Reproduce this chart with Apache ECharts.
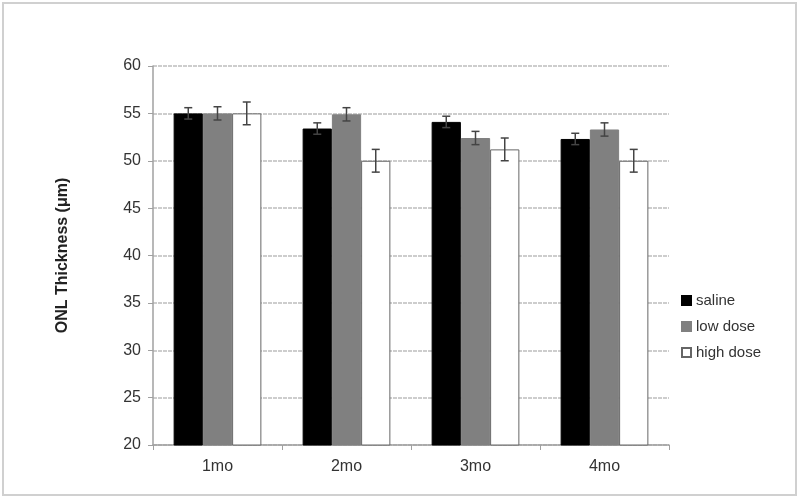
<!DOCTYPE html>
<html>
<head>
<meta charset="utf-8">
<script src="https://cdn.jsdelivr.net/npm/echarts@6/dist/echarts.min.js"></script>
<style>
  html, body { margin: 0; padding: 0; background: #fff; }
  #chart { width: 800px; height: 500px; }
</style>
</head>
<body>
<div id="chart"></div>
<script>
var categories = ['1mo', '2mo', '3mo', '4mo'];
var seriesNames = ['saline', 'low dose', 'high dose'];
var saline = [55.0, 53.4, 54.1, 52.3];
var lowDose = [55.0, 54.9, 52.4, 53.3];
var highDose = [55.0, 50.0, 51.2, 50.0];
var salineErr = [0.6, 0.6, 0.6, 0.6];
var lowDoseErr = [0.7, 0.7, 0.7, 0.7];
var highDoseErr = [1.2, 1.2, 1.2, 1.2];

var values = [saline, lowDose, highDose];
var errors = [salineErr, lowDoseErr, highDoseErr];
var barColors = ['#000000', '#808080', '#ffffff'];
var catGap = 0.32;

// one row per error bar: [category index, series index, low, high]
var errData = [];
for (var s = 0; s < values.length; s++) {
    for (var c = 0; c < categories.length; c++) {
        errData.push([c, s, values[s][c] - errors[s][c], values[s][c] + errors[s][c]]);
    }
}

function renderError(params, api) {
    var c = api.value(0);
    var s = api.value(1);
    var catWidth = api.size([1, 0])[0];
    var barW = catWidth * (1 - catGap) / 3;
    var lowPt = api.coord([c, api.value(2)]);
    var highPt = api.coord([c, api.value(3)]);
    var x = lowPt[0] + (s - 1) * barW;
    var cap = 4;
    var style = { stroke: '#444', lineWidth: 1.5 };
    return {
        type: 'group',
        children: [
            { type: 'line', shape: { x1: x, y1: lowPt[1], x2: x, y2: highPt[1] }, style: style },
            { type: 'line', shape: { x1: x - cap, y1: lowPt[1], x2: x + cap, y2: lowPt[1] }, style: style },
            { type: 'line', shape: { x1: x - cap, y1: highPt[1], x2: x + cap, y2: highPt[1] }, style: style }
        ]
    };
}

var series = [];
for (var i = 0; i < seriesNames.length; i++) {
    series.push({
        name: seriesNames[i],
        type: 'bar',
        data: values[i],
        barGap: '0%',
        barCategoryGap: (catGap * 100) + '%',
        itemStyle: {
            color: barColors[i],
            borderColor: i === 2 ? '#666' : barColors[i],
            borderWidth: 1
        }
    });
}
series.push({
    type: 'custom',
    name: 'error',
    renderItem: renderError,
    data: errData,
    encode: { x: 0, y: [2, 3] },
    z: 10,
    silent: true
});

var chart = echarts.init(document.getElementById('chart'));
chart.setOption({
    animation: false,
    textStyle: { fontFamily: 'Liberation Sans, Arial, sans-serif' },
    graphic: [{
        type: 'rect',
        shape: { x: 3, y: 3, width: 793, height: 492 },
        style: { fill: 'none', stroke: '#d0d0d0', lineWidth: 2 },
        silent: true
    }],
    grid: { left: 153, right: 131, top: 66, bottom: 55 },
    legend: {
        data: seriesNames,
        orient: 'vertical',
        left: 676,
        top: 288,
        itemWidth: 9,
        itemHeight: 9,
        itemGap: 11,
        icon: 'rect',
        textStyle: { fontSize: 15, color: '#333' }
    },
    xAxis: {
        type: 'category',
        data: categories,
        axisLine: { lineStyle: { color: '#a0a0a0', width: 1.5 } },
        axisTick: { show: true, length: 5, lineStyle: { color: '#a0a0a0' } },
        axisLabel: { fontSize: 16, color: '#333', margin: 14 }
    },
    yAxis: {
        type: 'value',
        min: 20,
        max: 60,
        interval: 5,
        name: 'ONL Thickness (μm)',
        nameLocation: 'middle',
        nameGap: 82,
        nameTextStyle: { fontSize: 16, fontWeight: 'bold', color: '#222' },
        axisLine: { show: true, lineStyle: { color: '#a0a0a0', width: 1.5 } },
        axisTick: { show: true, length: 5, lineStyle: { color: '#a0a0a0' } },
        axisLabel: { fontSize: 16, color: '#333', margin: 12 },
        splitLine: { lineStyle: { color: '#bdbdbd', width: 1.5, type: [4, 1] } }
    },
    series: series
});
</script>
</body>
</html>
